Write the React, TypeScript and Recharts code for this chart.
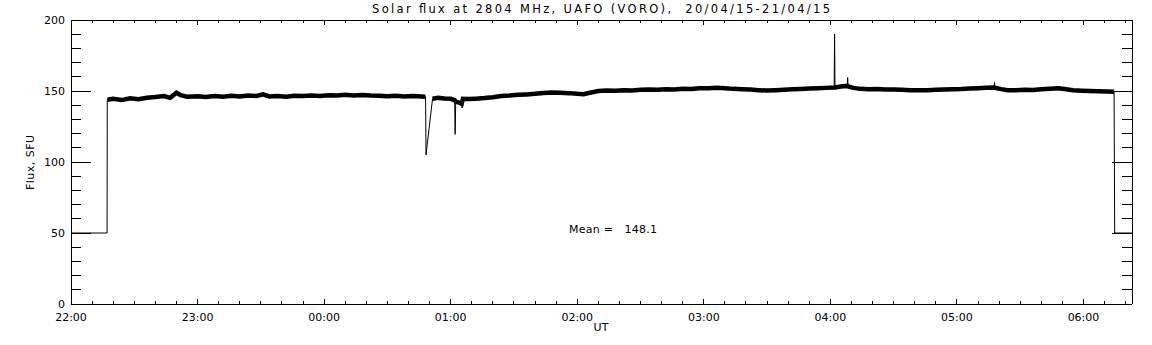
import React from 'react';
import { LineChart, Line, XAxis, YAxis } from 'recharts';

// Time is given in minutes since 22:00 UT (20/04/15)
const hourTicks = [0, 60, 120, 180, 240, 300, 360, 420, 480];
const hourLabels = ['22:00', '23:00', '00:00', '01:00', '02:00', '03:00', '04:00', '05:00', '06:00'];
const minorXTicks = [0, 10, 20, 30, 40, 50, 60, 70, 80, 90, 100, 110, 120, 130, 140, 150, 160, 170, 180, 190, 200, 210, 220, 230, 240, 250, 260, 270, 280, 290, 300, 310, 320, 330, 340, 350, 360, 370, 380, 390, 400, 410, 420, 430, 440, 450, 460, 470, 480, 490, 500];
const majorYTicks = [0, 50, 100, 150, 200];
const minorYTicks = [0, 10, 20, 30, 40, 50, 60, 70, 80, 90, 100, 110, 120, 130, 140, 150, 160, 170, 180, 190, 200];

// Smoothed flux band (noisy baseline), SFU
const bandMinutes = [17.3, 20, 24, 28, 32, 36, 40, 44, 47, 50, 52, 55, 60, 64, 68, 72, 76, 80, 84, 88, 91, 94, 98, 102, 106, 110, 114, 118, 122, 126, 130, 134, 138, 142, 146, 150, 154, 158, 162, 166, 168, 169.5, 171.4, 174, 177, 180, 181.9, 182.4, 184, 185.2, 185.8, 188, 192, 196, 200, 204, 208, 212, 216, 220, 224, 228, 232, 236, 240, 243, 246, 250, 254, 258, 262, 266, 270, 274, 278, 282, 286, 290, 294, 298, 302, 306, 310, 314, 318, 322, 326, 330, 334, 338, 342, 346, 350, 354, 358, 361.8, 362.2, 365, 368, 368.4, 371, 374, 378, 382, 386, 390, 394, 398, 402, 406, 410, 414, 418, 422, 426, 430, 434, 437.6, 438, 441, 444, 448, 452, 456, 460, 464, 468, 471, 475, 479, 483, 487, 491, 494.5];
const bandFlux = [143.8, 144.5, 143.6, 144.8, 144.2, 145.3, 145.8, 146.5, 145.2, 148.8, 147, 146, 146.3, 145.8, 146.4, 146, 146.6, 146.2, 146.8, 146.5, 147.6, 146.2, 146.5, 146, 146.6, 146.4, 146.8, 146.5, 147, 146.8, 147.3, 146.9, 147.2, 146.8, 146.6, 146.3, 146.6, 146.2, 146.4, 146.1, 146, null, 144.5, 145.2, 144.8, 144.5, 143.5, 142.5, 141.8, 141, 144.5, 144.3, 144.6, 145, 145.6, 146.5, 146.8, 147.3, 147.6, 148, 148.6, 149, 148.8, 148.5, 148, 147.8, 148.8, 150, 150.3, 150.2, 150.6, 150.4, 150.9, 151, 150.8, 151.3, 151.1, 151.6, 151.4, 151.9, 152, 152.3, 152, 151.5, 151.2, 151, 150.6, 150.3, 150.6, 150.9, 151.2, 151.4, 151.7, 151.9, 152.2, 152.4, 152.5, 153.2, 153.6, 153.2, 152.2, 151.5, 151.3, 151.4, 151, 151.1, 150.8, 150.6, 150.5, 150.6, 150.8, 151, 151.2, 151.4, 151.8, 152, 152.3, 152.5, 152.3, 151.3, 150.5, 150.6, 150.8, 150.7, 151.2, 151.6, 151.9, 151.4, 150.5, 150.2, 150, 149.9, 149.7, 149.5];

// Edges, dips and spikes drawn with a thin line
const eventMinutes = [0, 17.1, 17.2, 168.1, 168.3, 171.4, 182.1, 185.4, 362, 368.2, 437.8, 494.8, 503];
const eventFlux = [50, 50, 143.8, 146, 105, 143.7, 119.5, 138, 190, 159.5, 156, 50, 50];

const meanText = 'Mean =   148.1';
const titleText = 'Solar flux at 2804 MHz, UAFO (VORO),  20/04/15-21/04/15';
const yTitle = 'Flux, SFU';
const xTitle = 'UT';

const bandData = bandMinutes.map((t, i) => ({ t, f: bandFlux[i] }));
const thinData = [
  ...bandMinutes.map((t, i) => ({ t, f: bandFlux[i] })).filter((d) => d.f !== null),
  ...eventMinutes.map((t, i) => ({ t, f: eventFlux[i] })),
].sort((a, b) => a.t - b.t);

const FONT = 'DejaVu Sans';
const tickStyle = { fontSize: 11, fill: '#000', fontFamily: FONT };
const noLabel = { fontSize: 1, fill: 'none' };
const blank = () => '';
const X_DOMAIN: [number, number] = [0, 503];
const Y_DOMAIN: [number, number] = [0, 200];
const BLACK = { stroke: '#000' };
const THIN = 0.01;

export default function App() {
  return (
    <div style={{ position: 'absolute', left: 0, top: 0, width: 1152, height: 345, background: '#fff' }}>
      <style>{`svg line { shape-rendering: crispEdges; }`}</style>
      <LineChart width={1152} height={345} margin={{ top: 20, right: 20, left: 0, bottom: 0 }}>
        {/* bottom axis with labels */}
        <XAxis xAxisId="b" dataKey="t" type="number" domain={X_DOMAIN} allowDataOverflow ticks={hourTicks} interval={0}
          tickFormatter={(v: number) => hourLabels[hourTicks.indexOf(v)] ?? ''}
          tickLine={false} axisLine={BLACK} tick={tickStyle} height={41} tickSize={6} tickMargin={3} />
        <XAxis xAxisId="bMaj" dataKey="t" type="number" domain={X_DOMAIN} allowDataOverflow ticks={hourTicks} interval={0} mirror height={THIN}
          tick={noLabel} tickFormatter={blank} axisLine={false} tickLine={BLACK} tickSize={5} />
        <XAxis xAxisId="bMin" dataKey="t" type="number" domain={X_DOMAIN} allowDataOverflow ticks={minorXTicks} interval={0} mirror height={THIN}
          tick={noLabel} tickFormatter={blank} axisLine={false} tickLine={BLACK} tickSize={3} />
        {/* top axis */}
        <XAxis xAxisId="tMaj" dataKey="t" orientation="top" type="number" domain={X_DOMAIN} allowDataOverflow ticks={hourTicks} interval={0} mirror height={THIN}
          tick={noLabel} tickFormatter={blank} axisLine={BLACK} tickLine={BLACK} tickSize={5} />
        <XAxis xAxisId="tMin" dataKey="t" orientation="top" type="number" domain={X_DOMAIN} allowDataOverflow ticks={minorXTicks} interval={0} mirror height={THIN}
          tick={noLabel} tickFormatter={blank} axisLine={false} tickLine={BLACK} tickSize={3} />
        {/* left axis */}
        <YAxis yAxisId="l" type="number" domain={Y_DOMAIN} allowDataOverflow ticks={majorYTicks} interval={0}
          tickLine={false} axisLine={BLACK} tick={tickStyle} width={71} tickSize={6} tickMargin={0} />
        <YAxis yAxisId="lMaj" type="number" domain={Y_DOMAIN} allowDataOverflow ticks={majorYTicks} interval={0} mirror width={THIN}
          tick={noLabel} tickFormatter={blank} axisLine={false} tickLine={BLACK} tickSize={20} />
        <YAxis yAxisId="lMin" type="number" domain={Y_DOMAIN} allowDataOverflow ticks={minorYTicks} interval={0} mirror width={THIN}
          tick={noLabel} tickFormatter={blank} axisLine={false} tickLine={BLACK} tickSize={10} />
        {/* right axis */}
        <YAxis yAxisId="rMaj" orientation="right" type="number" domain={Y_DOMAIN} allowDataOverflow ticks={majorYTicks} interval={0} mirror width={THIN}
          tick={noLabel} tickFormatter={blank} axisLine={BLACK} tickLine={BLACK} tickSize={20} />
        <YAxis yAxisId="rMin" orientation="right" type="number" domain={Y_DOMAIN} allowDataOverflow ticks={minorYTicks} interval={0} mirror width={THIN}
          tick={noLabel} tickFormatter={blank} axisLine={false} tickLine={BLACK} tickSize={10} />
        {/* hidden carrier series so that every tick-mark axis is drawn */}
        <Line xAxisId="bMaj" yAxisId="lMaj" data={thinData} dataKey="f" stroke="none" strokeOpacity={0} dot={false} isAnimationActive={false} />
        <Line xAxisId="bMin" yAxisId="lMin" data={thinData} dataKey="f" stroke="none" strokeOpacity={0} dot={false} isAnimationActive={false} />
        <Line xAxisId="tMaj" yAxisId="rMaj" data={thinData} dataKey="f" stroke="none" strokeOpacity={0} dot={false} isAnimationActive={false} />
        <Line xAxisId="tMin" yAxisId="rMin" data={thinData} dataKey="f" stroke="none" strokeOpacity={0} dot={false} isAnimationActive={false} />
        {/* visible flux */}
        <Line xAxisId="b" yAxisId="l" data={thinData} dataKey="f" type="linear" stroke="#000" strokeWidth={1}
          dot={false} isAnimationActive={false} />
        <Line xAxisId="b" yAxisId="l" data={bandData} dataKey="f" type="linear" stroke="#000" strokeWidth={4.5}
          strokeLinejoin="miter" dot={false} connectNulls={false} isAnimationActive={false} />
      </LineChart>
      <svg width={1152} height={345} style={{ position: 'absolute', left: 0, top: 0, pointerEvents: 'none' }}>
        <text x={601} y={13} textAnchor="middle" fontFamily={FONT} fontSize={11.5} fill="#000"
          textLength={458} lengthAdjust="spacing" style={{ whiteSpace: 'pre' }}>{titleText}</text>
        <text x={30} y={162.5} textAnchor="middle" dominantBaseline="central" fontFamily={FONT} fontSize={11} fill="#000"
          transform="rotate(-90 30 162.5)" textLength={55} lengthAdjust="spacing">{yTitle}</text>
        <text x={601} y={327.5} textAnchor="middle" dominantBaseline="central" fontFamily={FONT} fontSize={11} fill="#000">{xTitle}</text>
        <text x={569} y={229} dominantBaseline="central" fontFamily={FONT} fontSize={11} fill="#000"
          textLength={88} lengthAdjust="spacing" style={{ whiteSpace: 'pre' }}>{meanText}</text>
      </svg>
    </div>
  );
}
